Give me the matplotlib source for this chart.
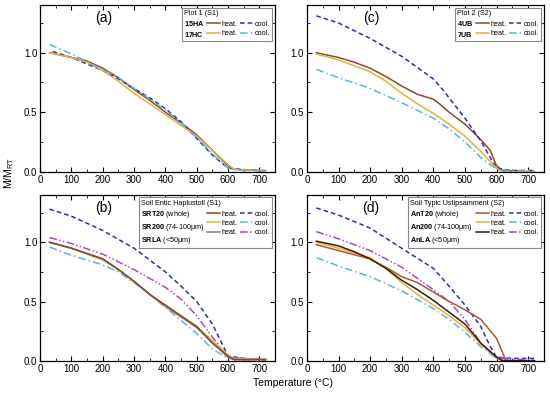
import matplotlib.pyplot as plt
from matplotlib.lines import Line2D
from matplotlib.ticker import MultipleLocator

plt.rcParams['font.family'] = ['Liberation Sans', 'DejaVu Sans']
plt.rcParams['mathtext.fontset'] = 'custom'
plt.rcParams['mathtext.rm'] = 'Liberation Sans'
plt.rcParams['mathtext.bf'] = 'Liberation Sans:bold'

# ---- data ----
# panel (a) Plot 1 (S1)
a_15ha_heat_t = [30, 100, 150, 200, 250, 300, 350, 400, 450, 500, 550, 600, 620, 700, 720]
a_15ha_heat_m = [1.00, 0.96, 0.93, 0.87, 0.79, 0.69, 0.60, 0.50, 0.41, 0.31, 0.18, 0.05, 0.02, 0.01, 0.01]
a_15ha_cool_t = [40, 100, 200, 250, 300, 350, 400, 450, 500, 550, 600, 640, 700, 720]
a_15ha_cool_m = [1.01, 0.96, 0.85, 0.78, 0.70, 0.62, 0.53, 0.42, 0.28, 0.14, 0.03, 0.02, 0.01, 0.01]
a_17hc_heat_t = [30, 100, 150, 200, 250, 300, 350, 400, 450, 500, 550, 600, 620, 700, 720]
a_17hc_heat_m = [1.00, 0.96, 0.92, 0.85, 0.76, 0.66, 0.57, 0.48, 0.39, 0.30, 0.18, 0.06, 0.02, 0.01, 0.01]
a_17hc_cool_t = [30, 100, 200, 250, 300, 350, 400, 450, 500, 550, 600, 650, 720]
a_17hc_cool_m = [1.07, 0.99, 0.86, 0.79, 0.70, 0.61, 0.52, 0.41, 0.29, 0.15, 0.03, 0.01, 0.01]

# panel (c) Plot 2 (S2)
c_4ub_heat_t = [30, 100, 150, 200, 250, 300, 350, 400, 420, 450, 500, 550, 580, 600, 620, 720]
c_4ub_heat_m = [1.00, 0.96, 0.92, 0.87, 0.80, 0.72, 0.65, 0.61, 0.57, 0.50, 0.40, 0.27, 0.18, 0.05, 0.01, 0.00]
c_4ub_cool_t = [30, 100, 200, 300, 400, 430, 450, 500, 550, 580, 600, 650, 720]
c_4ub_cool_m = [1.31, 1.25, 1.12, 0.97, 0.78, 0.69, 0.62, 0.45, 0.26, 0.12, 0.03, 0.01, 0.01]
c_7ub_heat_t = [30, 100, 200, 250, 300, 350, 400, 450, 500, 550, 600, 620, 720]
c_7ub_heat_m = [0.99, 0.94, 0.84, 0.76, 0.66, 0.57, 0.49, 0.40, 0.30, 0.17, 0.03, 0.00, 0.00]
c_7ub_cool_t = [30, 100, 200, 300, 400, 450, 500, 550, 600, 650, 720]
c_7ub_cool_m = [0.86, 0.79, 0.70, 0.58, 0.45, 0.36, 0.25, 0.12, 0.02, 0.01, 0.01]

# panel (b) Soil Entic Haplustoll (S1)
b_srt20_heat_t = [30, 100, 200, 250, 300, 350, 400, 450, 500, 550, 600, 620, 720]
b_srt20_heat_m = [1.00, 0.95, 0.86, 0.77, 0.67, 0.56, 0.47, 0.38, 0.29, 0.15, 0.04, 0.01, 0.01]
b_srt20_cool_t = [30, 100, 200, 300, 400, 450, 500, 550, 600, 650, 720]
b_srt20_cool_m = [1.28, 1.22, 1.10, 0.95, 0.75, 0.63, 0.50, 0.31, 0.04, 0.02, 0.01]
b_sr200_heat_t = [30, 100, 200, 250, 300, 350, 400, 450, 500, 550, 600, 610, 720]
b_sr200_heat_m = [1.00, 0.95, 0.85, 0.77, 0.67, 0.56, 0.46, 0.37, 0.29, 0.17, 0.05, 0.02, 0.01]
b_sr200_cool_t = [30, 100, 200, 250, 300, 350, 400, 450, 500, 550, 600, 650, 720]
b_sr200_cool_m = [0.96, 0.89, 0.81, 0.75, 0.66, 0.56, 0.45, 0.34, 0.23, 0.10, 0.02, 0.01, 0.01]
b_srla_heat_t = [30, 100, 200, 250, 300, 350, 400, 450, 500, 550, 600, 620, 720]
b_srla_heat_m = [1.00, 0.95, 0.86, 0.77, 0.67, 0.56, 0.46, 0.37, 0.28, 0.15, 0.03, 0.01, 0.01]
b_srla_cool_t = [30, 100, 200, 300, 400, 450, 500, 550, 600, 650, 720]
b_srla_cool_m = [1.04, 0.99, 0.90, 0.77, 0.62, 0.52, 0.38, 0.20, 0.03, 0.02, 0.01]

# panel (d) Soil Typic Ustipsamment (S2)
d_ant20_heat_t = [30, 100, 200, 250, 300, 350, 400, 450, 480, 500, 550, 600, 630, 720]
d_ant20_heat_m = [0.98, 0.93, 0.86, 0.79, 0.71, 0.66, 0.58, 0.50, 0.46, 0.43, 0.35, 0.19, 0.00, 0.00]
d_ant20_cool_t = [30, 100, 200, 300, 400, 450, 500, 550, 580, 600, 650, 720]
d_ant20_cool_m = [1.29, 1.23, 1.12, 0.95, 0.78, 0.63, 0.47, 0.29, 0.12, 0.03, 0.02, 0.02]
d_an200_heat_t = [30, 100, 200, 250, 300, 350, 400, 450, 500, 550, 600, 620, 720]
d_an200_heat_m = [1.00, 0.95, 0.87, 0.78, 0.66, 0.56, 0.47, 0.38, 0.28, 0.14, 0.02, 0.00, 0.00]
d_an200_cool_t = [30, 100, 200, 300, 400, 450, 500, 550, 600, 650, 720]
d_an200_cool_m = [0.87, 0.80, 0.71, 0.59, 0.44, 0.35, 0.24, 0.12, 0.02, 0.01, 0.01]
d_anla_heat_t = [30, 100, 150, 200, 250, 300, 350, 400, 450, 500, 550, 600, 620, 720]
d_anla_heat_m = [1.01, 0.97, 0.92, 0.86, 0.78, 0.68, 0.60, 0.51, 0.41, 0.31, 0.15, 0.03, 0.00, 0.00]
d_anla_cool_t = [30, 100, 200, 300, 400, 450, 500, 550, 600, 650, 720]
d_anla_cool_m = [1.09, 1.03, 0.93, 0.79, 0.60, 0.50, 0.35, 0.15, 0.03, 0.01, 0.01]

# ---- styles ----
BROWN = '#8B4A2B'
REDBROWN = '#A85A32'
GOLD = '#E2B13C'
GRAYBR = '#8C7B70'
DARKBR = '#3A1C0C'
BLUE = '#2A2AC8'
CYAN = '#5BB6CF'
PURPLE = '#A845D6'
dash = dict(dashes=(3, 2))
dashdot = dict(dashes=(5, 2, 1, 2))
dashdotdot = dict(dashes=(5, 1.5, 1, 1.5, 1, 1.5))
LW = 1.1

fig = plt.figure(figsize=(5.5, 3.93), dpi=100)
ax_a = fig.add_axes([0.073, 0.563, 0.427, 0.424])
ax_c = fig.add_axes([0.558, 0.563, 0.431, 0.424])
ax_b = fig.add_axes([0.073, 0.082, 0.427, 0.422])
ax_d = fig.add_axes([0.558, 0.082, 0.431, 0.422])


def style_axes(ax, label):
    ax.set_xlim(0, 750)
    ax.set_ylim(0, 1.4)
    ax.xaxis.set_major_locator(MultipleLocator(100))
    ax.xaxis.set_minor_locator(MultipleLocator(50))
    ax.yaxis.set_major_locator(MultipleLocator(0.5))
    ax.yaxis.set_minor_locator(MultipleLocator(0.25))
    ax.tick_params(which='both', direction='in', top=True, right=True, labelsize=7, pad=2)
    ax.tick_params(which='major', length=3.5, width=0.8)
    ax.tick_params(which='minor', length=2, width=0.6)
    ax.yaxis.set_major_formatter(plt.FuncFormatter(lambda v, p: f'{v:.1f}'))
    for s in ax.spines.values():
        s.set_linewidth(0.9)
    ax.text(0.27, 0.92, label, transform=ax.transAxes, fontsize=10, ha='center', va='center')


def make_legend(ax, title, names, heat_styles, cool_styles):
    handles = []
    labels = []
    for n in names:
        handles.append(Line2D([], [], linestyle='none'))
        labels.append(n)
    for c in heat_styles:
        handles.append(Line2D([], [], color=c, lw=LW))
        labels.append('heat.')
    for c, st in cool_styles:
        handles.append(Line2D([], [], color=c, lw=LW, **st))
        labels.append('cool.')
    leg = ax.legend(handles, labels, ncol=3, title=title, alignment='left', loc='upper right',
                    fontsize=5.2, title_fontsize=5.2, frameon=True, fancybox=False,
                    edgecolor='#888888', framealpha=1, borderpad=0.3, labelspacing=0.3,
                    handlelength=1.8, handletextpad=0.3, columnspacing=0.3,
                    borderaxespad=0.35)
    leg.get_frame().set_linewidth(0.8)
    # remove empty handle space in the name column
    col0 = leg._legend_handle_box.get_children()[0]
    for row in col0.get_children():
        row.get_children()[0].width = 0
        row.sep = 0
    return leg


# panel (a)
ax_a.plot(a_15ha_heat_t, a_15ha_heat_m, color=BROWN, lw=LW)
ax_a.plot(a_15ha_cool_t, a_15ha_cool_m, color=BLUE, lw=LW, **dash)
ax_a.plot(a_17hc_heat_t, a_17hc_heat_m, color=GOLD, lw=LW)
ax_a.plot(a_17hc_cool_t, a_17hc_cool_m, color=CYAN, lw=LW, **dashdot)
style_axes(ax_a, '(a)')
make_legend(ax_a, 'Plot 1 (S1)', [r'$\bf{15HA}$', r'$\bf{17HC}$'],
            [BROWN, GOLD], [(BLUE, dash), (CYAN, dashdot)])

# panel (c)
ax_c.plot(c_4ub_heat_t, c_4ub_heat_m, color=BROWN, lw=LW)
ax_c.plot(c_4ub_cool_t, c_4ub_cool_m, color=BLUE, lw=LW, **dash)
ax_c.plot(c_7ub_heat_t, c_7ub_heat_m, color=GOLD, lw=LW)
ax_c.plot(c_7ub_cool_t, c_7ub_cool_m, color=CYAN, lw=LW, **dashdot)
style_axes(ax_c, '(c)')
make_legend(ax_c, 'Plot 2 (S2)', [r'$\bf{4UB}$', r'$\bf{7UB}$'],
            [BROWN, GOLD], [(BLUE, dash), (CYAN, dashdot)])

# panel (b)
ax_b.plot(b_srt20_cool_t, b_srt20_cool_m, color=BLUE, lw=LW, **dash)
ax_b.plot(b_sr200_cool_t, b_sr200_cool_m, color=CYAN, lw=LW, **dashdot)
ax_b.plot(b_srla_cool_t, b_srla_cool_m, color=PURPLE, lw=LW, **dashdotdot)
ax_b.plot(b_sr200_heat_t, b_sr200_heat_m, color=GOLD, lw=LW)
ax_b.plot(b_srla_heat_t, b_srla_heat_m, color=GRAYBR, lw=LW)
ax_b.plot(b_srt20_heat_t, b_srt20_heat_m, color=BROWN, lw=LW)
style_axes(ax_b, '(b)')
make_legend(ax_b, 'Soil Entic Haplustoll (S1)',
            [r'$\bf{SRT20}$ (whole)', r'$\bf{SR200}$ (74-100μm)', r'$\bf{SRLA}$ (<50μm)'],
            [BROWN, GOLD, GRAYBR], [(BLUE, dash), (CYAN, dashdot), (PURPLE, dashdotdot)])

# panel (d)
ax_d.plot(d_ant20_cool_t, d_ant20_cool_m, color=BLUE, lw=LW, **dash)
ax_d.plot(d_an200_cool_t, d_an200_cool_m, color=CYAN, lw=LW, **dashdot)
ax_d.plot(d_anla_cool_t, d_anla_cool_m, color=PURPLE, lw=LW, **dashdotdot)
ax_d.plot(d_ant20_heat_t, d_ant20_heat_m, color=REDBROWN, lw=LW)
ax_d.plot(d_an200_heat_t, d_an200_heat_m, color=GOLD, lw=LW)
ax_d.plot(d_anla_heat_t, d_anla_heat_m, color=DARKBR, lw=LW)
style_axes(ax_d, '(d)')
make_legend(ax_d, 'Soil Typic Ustipsamment (S2)',
            [r'$\bf{AnT20}$ (whole)', r'$\bf{An200}$ (74-100μm)', r'$\bf{AnLA}$ (<50μm)'],
            [REDBROWN, GOLD, DARKBR], [(BLUE, dash), (CYAN, dashdot), (PURPLE, dashdotdot)])

fig.text(0.016, 0.56, r'M/M$_{\rm RT}$', rotation=90, ha='center', va='center', fontsize=7.5)
fig.text(0.533, 0.025, 'Temperature (°C)', ha='center', va='center', fontsize=7.5)

fig.savefig('out.png', dpi=100)
